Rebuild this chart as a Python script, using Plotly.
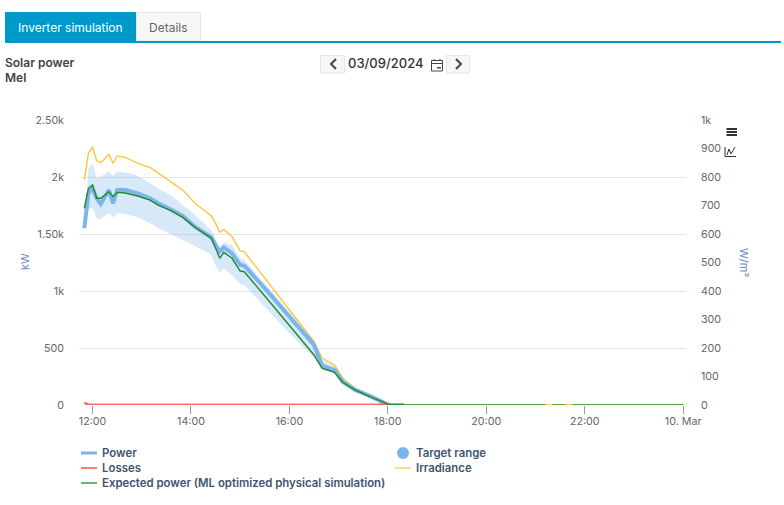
# courbes onduleur du 09/03/2024
import plotly.graph_objects as go

day = "2024-03-09 "

times = ["11:50", "11:55", "12:00", "12:05", "12:10", "12:20", "12:25", "12:30", "12:40", "12:55", "13:10",
         "13:20", "13:35", "13:50", "14:05", "14:25", "14:30", "14:35", "14:40", "14:50", "15:00", "15:05",
         "15:30", "16:00", "16:30", "16:40", "16:55", "17:05", "17:20", "17:40", "17:55", "18:00"]
times_power = times + ["18:20"]

power = [1550, 1857, 1900, 1813, 1763, 1886, 1769, 1886, 1886, 1857, 1813, 1769, 1717, 1658, 1564, 1471, 1404,
         1345, 1383, 1331, 1228, 1222, 1024, 775, 526, 345, 307, 204, 132, 73, 14, 3, 0]
target_high = [1550, 2076, 2120, 1994, 2003, 2053, 2012, 2047, 2041, 2012, 1945, 1900, 1842, 1754, 1667, 1535, 1447,
               1389, 1433, 1404, 1289, 1272, 1070, 818, 570, 395, 336, 210, 135, 78, 18, 6, 0]
target_low = [1550, 1711, 1734, 1637, 1629, 1687, 1646, 1681, 1675, 1646, 1594, 1550, 1500, 1447, 1395, 1316, 1228,
              1161, 1199, 1140, 1059, 1053, 862, 629, 410, 322, 277, 195, 128, 65, 10, 1, 0]
expected = [1725, 1900, 1930, 1813, 1813, 1871, 1827, 1865, 1860, 1833, 1798, 1754, 1708, 1646, 1558, 1462, 1377,
            1287, 1339, 1287, 1175, 1169, 956, 702, 439, 322, 287, 199, 132, 67, 26, 2]
irradiance = [789, 883, 906, 857, 850, 879, 848, 874, 869, 848, 834, 813, 784, 754, 708, 663, 638, 606, 616, 591,
              541, 538, 444, 333, 222, 164, 140, 94, 59, 32, 7, 1]

# fin de journée
expected_tail_times = ["18:20", "21:12", "21:13", "21:19", "21:20", "21:37", "21:38", "21:43", "21:44"]
expected_tail = [0, 0, None, None, 0, 0, None, None, 0]
irradiance_tail_times = ["18:20"]
irradiance_tail = [0]

loss_times = ["11:50", "11:55", "13:00", "15:00", "17:00", "17:50", "17:55", "18:00", "18:05"]
losses = [18, 3, 3, 3, 3, 3, 12, 10, 0]

kw_ticks = [0, 500, 1000, 1500, 2000, 2500]
kw_labels = ["0", "500", "1k", "1.50k", "2k", "2.50k"]
wm2_ticks = [0, 100, 200, 300, 400, 500, 600, 700, 800, 900, 1000]
wm2_labels = ["0", "100", "200", "300", "400", "500", "600", "700", "800", "900", "1k"]
x_ticks = ["12:00", "14:00", "16:00", "18:00", "20:00", "22:00"]
x_labels = x_ticks + ["10. Mar"]

END = "2024-03-10 00:00"

FONT = "Inter"
PLOT_L, PLOT_R, PLOT_T, PLOT_B = 79, 686, 120, 405


def stamp(values):
    return [day + v for v in values]


def px(x):
    return (x - PLOT_L) / (PLOT_R - PLOT_L)


def py(y):
    return (PLOT_B - y) / (PLOT_B - PLOT_T)


def rect(x0, y0, x1, y1, fill, line=None):
    return dict(type="rect", xref="paper", yref="paper", x0=px(x0), x1=px(x1), y0=py(y0), y1=py(y1),
                fillcolor=fill, line=dict(color=line or fill, width=1 if line else 0))


def polyline(points, color, width=2):
    path = "M " + " L ".join(f"{px(a)} {py(b)}" for a, b in points)
    return dict(type="path", xref="paper", yref="paper", path=path, line=dict(color=color, width=width))


def text(x, y, s, size=12, color="#666666", anchor="left", weight="normal", **kw):
    return dict(xref="paper", yref="paper", x=px(x), y=py(y), text=s, showarrow=False, xanchor=anchor,
                yanchor="middle", font=dict(family=FONT, size=size, color=color, weight=weight), **kw)


fig = go.Figure()

# l'irradiance reste sur l'axe de base pour passer sous la courbe verte
fig.add_trace(go.Scatter(x=stamp(times + irradiance_tail_times) + [END], y=irradiance + irradiance_tail + [0],
                         mode="lines", name="Irradiance", line=dict(color="#fcc63f", width=1.4)))
fig.add_trace(go.Scatter(x=stamp(times_power), y=target_low, mode="lines", yaxis="y2",
                         line=dict(width=0, color="#7cb5ec"), hoverinfo="skip"))
fig.add_trace(go.Scatter(x=stamp(times_power), y=target_high, mode="lines", yaxis="y2",
                         line=dict(width=0, color="#7cb5ec"),
                         fill="tonexty", fillcolor="rgba(124,181,236,0.3)", name="Target range"))
fig.add_trace(go.Scatter(x=stamp(times_power), y=power, mode="lines", name="Power", yaxis="y2",
                         line=dict(color="#7cb5ec", width=4)))
fig.add_trace(go.Scatter(x=stamp(loss_times), y=losses, mode="lines", name="Losses", yaxis="y2",
                         line=dict(color="#ff6b6b", width=2.5)))
fig.add_trace(go.Scatter(x=stamp(times + expected_tail_times) + [END], y=expected + expected_tail + [0],
                         mode="lines", name="Expected power (ML optimized physical simulation)", connectgaps=False,
                         yaxis="y2", line=dict(color="#1f8a2a", width=1.4)))

shapes = [
    rect(5, 12, 136, 41, "#0099cc"),
    rect(136.5, 12.5, 200.5, 41, "#f7f7f7", "#e6e6e6"),
    rect(5, 41, 781, 43, "#0099cc"),
    rect(320.5, 55.5, 344.5, 73, "#f7f7f7", "#e6e6e6"),
    rect(446.5, 55.5, 469.5, 73, "#f7f7f7", "#e6e6e6"),
    polyline([(336, 59), (331, 64), (336, 69)], "#444444"),
    polyline([(456, 59), (461, 64), (456, 69)], "#444444"),
    # calendrier
    rect(431.5, 60.5, 442.5, 71, "#ffffff", "#444444"),
    polyline([(431.5, 63.5), (442.5, 63.5)], "#444444", 1),
    polyline([(434, 59), (434, 61)], "#444444", 1),
    polyline([(440, 59), (440, 61)], "#444444", 1),
    rect(437, 67, 441, 68.5, "#444444"),
    # menu et icône du graphique
    rect(726.5, 128, 737, 130, "#333333"),
    rect(726.5, 131, 737, 133, "#333333"),
    rect(726.5, 134, 737, 136, "#333333"),
    polyline([(725, 147), (725, 156.5), (736, 156.5)], "#333333", 1),
    polyline([(727, 155), (729, 149), (731, 154), (735, 147)], "#333333", 1),
    # légende
    polyline([(81, 453), (97, 453)], "#7cb5ec", 3),
    polyline([(81, 468), (97, 468)], "#ff7a7a", 2),
    polyline([(81, 483), (97, 483)], "#6fb56f", 2),
    dict(type="circle", xref="paper", yref="paper", x0=px(397), x1=px(409), y0=py(459), y1=py(447),
         fillcolor="#7cb5ec", line=dict(width=0)),
    polyline([(395, 468), (411, 468)], "#ffdc85", 2),
]

LEGEND = "#3e5570"
annotations = [
    text(16, 27, "Inverter simulation", 12, "#ffffff"),
    text(147, 27, "Details", 12, "#666666"),
    text(3, 62.5, "Solar power", 12, "#444444", weight=600),
    text(3, 77.5, "Mel", 12, "#444444", weight=600),
    text(346, 63, "03/09/2024", 13, "#333333", weight=500),
    text(25, 262, "kW", 11, "#6b8abc", anchor="center", textangle=-90),
    text(744, 262, "W/m²", 11, "#6b8abc", anchor="center", textangle=90),
    text(100, 453, "Power", 11.4, LEGEND, weight=600),
    text(100, 468, "Losses", 11.4, LEGEND, weight=600),
    text(100, 483, "Expected power (ML optimized physical simulation)", 11.4, LEGEND, weight=600),
    text(414, 453, "Target range", 11.4, LEGEND, weight=600),
    text(414, 468, "Irradiance", 11.4, LEGEND, weight=600),
]

fig.update_layout(
    width=784,
    height=505,
    autosize=False,
    showlegend=False,
    margin=dict(l=PLOT_L, r=784 - PLOT_R, t=PLOT_T, b=505 - PLOT_B, pad=0),
    paper_bgcolor="#ffffff",
    plot_bgcolor="#ffffff",
    font=dict(family=FONT, size=12, color="#666666"),
    shapes=shapes,
    annotations=annotations,
    xaxis=dict(
        type="date",
        range=[day + "11:43:30", "2024-03-10 00:03:30"],
        tickvals=stamp(x_ticks) + [END],
        ticktext=x_labels,
        ticks="outside",
        ticklen=8,
        tickcolor="#999999",
        tickfont=dict(size=10.7, color="#666666"),
        ticklabelstandoff=-2,
        showgrid=False,
        zeroline=False,
        showline=False,
    ),
    yaxis=dict(
        side="right",
        range=[0, 1000],
        tickvals=wm2_ticks,
        ticktext=wm2_labels,
        tickfont=dict(size=10.7, color="#666666"),
        ticklabelstandoff=14,
        showgrid=False,
        zeroline=False,
    ),
    yaxis2=dict(
        overlaying="y",
        side="left",
        range=[0, 2500],
        tickvals=kw_ticks,
        ticktext=kw_labels,
        tickfont=dict(size=10.7, color="#666666"),
        ticklabelstandoff=14,
        gridcolor="#e6e6e6",
        zeroline=False,
    ),
)

fig.write_html("out.html", config=dict(displayModeBar=False), post_script="document.body.style.margin='0';")
